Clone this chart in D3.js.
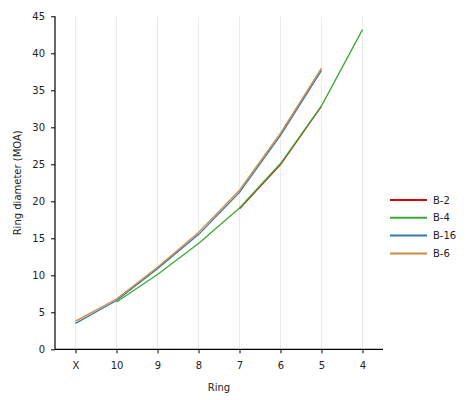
<!DOCTYPE html>
<html><head><meta charset="utf-8">
<script src="https://cdn.jsdelivr.net/npm/d3@7"></script>
<style>body{margin:0;background:#fff}svg{display:block}</style>
</head><body>
<svg id="c" width="468" height="400"></svg>
<script>
const rings = ["X","10","9","8","7","6","5","4"];
const seriesNames = ["B-2","B-4","B-16","B-6"];
const seriesColors = ["#e00000","#3aaa35","#3a75b0","#cc8b3c"];
const b2  = [null,null,null,null,19.0,24.95,32.85,null];
const b4  = [null,6.4,10.1,14.3,19.1,25.1,32.9,43.2];
const b16 = [3.5,6.6,10.9,15.5,21.2,28.9,37.7,null];
const b6  = [3.8,6.8,11.1,15.8,21.5,29.2,38.0,null];
const seriesValues = [b2,b4,b16,b6];
const yTicks = [0,5,10,15,20,25,30,35,40,45];

const svg = d3.select("#c");
const L=55, R=383, T=16.3, B=349.3;
const x = d3.scalePoint().domain(rings).range([L,R]).padding(0.5);
const y = d3.scaleLinear().domain([0,45]).range([B,T]);
const font = "DejaVu Sans";

svg.append("g").selectAll("line").data(rings).join("line")
  .attr("x1",d=>x(d)).attr("x2",d=>x(d)).attr("y1",T).attr("y2",B)
  .attr("stroke","#ebebeb").attr("stroke-width",1);

const line = d3.line().defined(d=>d.v!=null).x(d=>x(d.r)).y(d=>y(d.v));
seriesValues.forEach((vals,i)=>{
  svg.append("path")
    .datum(rings.map((r,j)=>({r, v: vals[j]})))
    .attr("d",line).attr("fill","none")
    .attr("stroke",seriesColors[i]).attr("stroke-width",1.3)
    .attr("stroke-linejoin","round");
});

const xa = svg.append("g").attr("transform",`translate(0,${B})`)
  .call(d3.axisBottom(x).tickSize(4).tickPadding(9).tickSizeOuter(0));
const ya = svg.append("g").attr("transform",`translate(${L},0)`)
  .call(d3.axisLeft(y).tickValues(yTicks).tickSize(4).tickPadding(6).tickSizeOuter(0));
[xa,ya].forEach(a=>{
  a.selectAll("text").attr("font-family",font).attr("font-size",10).attr("fill","#222");
  a.selectAll("line").attr("stroke","#000").attr("stroke-width",1);
  a.select(".domain").attr("stroke","#000").attr("stroke-width",1.2);
});
xa.select(".domain").attr("d",`M${L},0H${R}`);
ya.select(".domain").attr("d",`M0,${T}V${B}`);

svg.append("text").attr("x",(L+R)/2).attr("y",391).attr("text-anchor","middle")
  .attr("font-family",font).attr("font-size",10).attr("fill","#222").text("Ring");
svg.append("text").attr("transform",`translate(21,${(T+B)/2}) rotate(-90)`)
  .attr("text-anchor","middle").attr("font-family",font).attr("font-size",10)
  .attr("fill","#222").text("Ring diameter (MOA)");

const lg = svg.append("g");
seriesNames.forEach((n,i)=>{
  const yy = 200 + i*17.8;
  lg.append("line").attr("x1",390).attr("x2",427).attr("y1",yy).attr("y2",yy)
    .attr("stroke",seriesColors[i]).attr("stroke-width",2);
  lg.append("text").attr("x",433).attr("y",yy).attr("dy","0.35em")
    .attr("font-family",font).attr("font-size",10).attr("fill","#222").text(n);
});
</script>
</body></html>
